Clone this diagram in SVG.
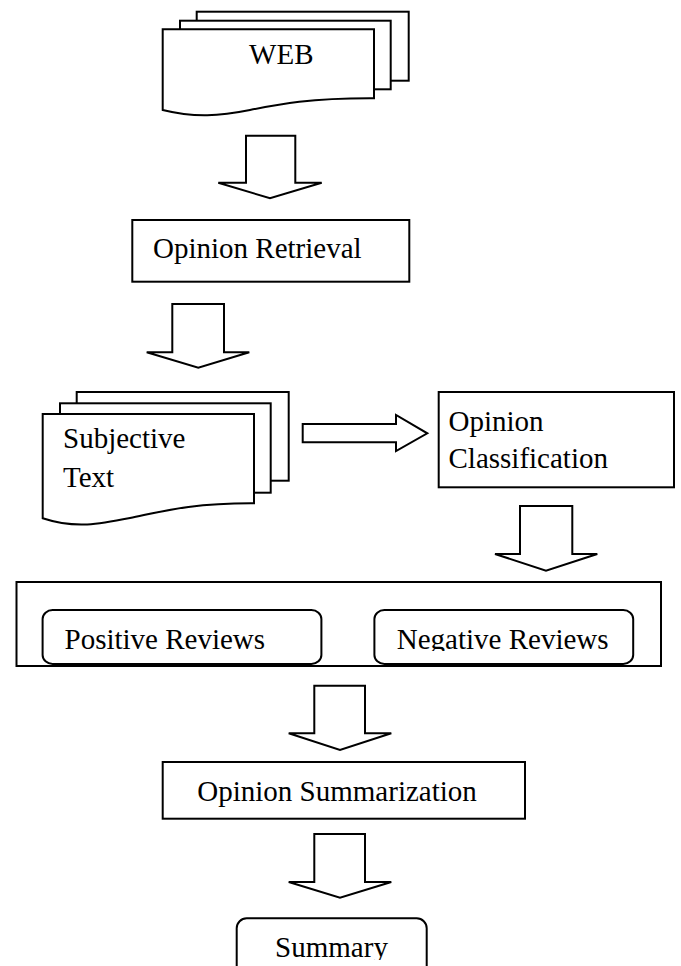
<svg xmlns="http://www.w3.org/2000/svg" width="681" height="966" viewBox="0 0 681 966">
<style>
.s{fill:#fff;stroke:#000;stroke-width:2;stroke-linejoin:miter}
.t{font-family:"Liberation Serif","Times New Roman",serif;font-size:29px;fill:#000}
</style>
<defs>
<clipPath id="clipRev"><rect x="0" y="590" width="681" height="61"/></clipPath>
<clipPath id="clipSum"><rect x="0" y="900" width="681" height="60"/></clipPath>
</defs>
<rect width="681" height="966" fill="#fff"/>
<g id="web">
<rect class="s" x="196.7" y="11.7" width="212" height="69"/>
<rect class="s" x="180" y="20.7" width="210.7" height="68.6"/>
<path class="s" d="M162.7,29.3 H374 V98.3 C310,98 280,104 250,110 S195,118 162.7,110 Z"/>
<text class="t" x="281.3" y="64" text-anchor="middle">WEB</text>
</g>
<g id="opinion-retrieval">
<rect class="s" x="132.3" y="220" width="277" height="61.7"/>
<text class="t" x="153" y="258.3">Opinion Retrieval</text>
</g>
<g id="subjective-text">
<rect class="s" x="76.7" y="392" width="212" height="88.7"/>
<rect class="s" x="60" y="403.3" width="210.7" height="89.4"/>
<path class="s" d="M42.7,414 H254 V503.3 C190,503 160,512 130,518 S75,529 42.7,518.3 Z"/>
<text class="t" x="63" y="448.3">Subjective</text>
<text class="t" x="63" y="487.3">Text</text>
</g>
<g id="opinion-classification">
<rect class="s" x="438.7" y="392" width="235.3" height="95.3"/>
<text class="t" x="448.5" y="430.7">Opinion</text>
<text class="t" x="448.5" y="468.3">Classification</text>
</g>
<g id="reviews">
<rect class="s" x="16.5" y="582" width="644.5" height="84"/>
<g id="positive-reviews">
<rect class="s" x="42.6" y="610" width="278.8" height="54" rx="10" ry="9"/>
<text class="t" x="64.5" y="649.3" clip-path="url(#clipRev)">Positive Reviews</text>
</g>
<g id="negative-reviews">
<rect class="s" x="374.4" y="610" width="258.8" height="54" rx="10" ry="9"/>
<text class="t" x="396.8" y="649.3" clip-path="url(#clipRev)">Negative Reviews</text>
</g>
</g>
<g id="opinion-summarization">
<rect class="s" x="162.7" y="762" width="362.3" height="56.7"/>
<text class="t" x="197.3" y="801">Opinion Summarization</text>
</g>
<g id="summary">
<rect class="s" x="236.7" y="918.3" width="190" height="70" rx="10" ry="10"/>
<text class="t" x="331.5" y="957.3" text-anchor="middle" clip-path="url(#clipSum)">Summary</text>
</g>
<g id="connectors">
<path class="s" d="M246,135.7 H295.3 V182.7 H321.7 L270,198.3 L218.3,182.7 H246 Z"/>
<path class="s" d="M172.3,304 H224 V352.3 H249.3 L198.3,367.7 L146.7,352.3 H172.3 Z"/>
<path class="s" d="M302.7,424 H396 V415 L427.3,433.3 L396,451 V442.3 H302.7 Z"/>
<path class="s" d="M520,506 H572.3 V554 H597.3 L546,570.7 L495,554 H520 Z"/>
<path class="s" d="M314.3,685.7 H365 V733.3 H391.3 L340,750 L288.7,733.3 H314.3 Z"/>
<path class="s" d="M314.3,834 H365 V882 H391.3 L340,897.7 L288.7,882 H314.3 Z"/>
</g>
</svg>
